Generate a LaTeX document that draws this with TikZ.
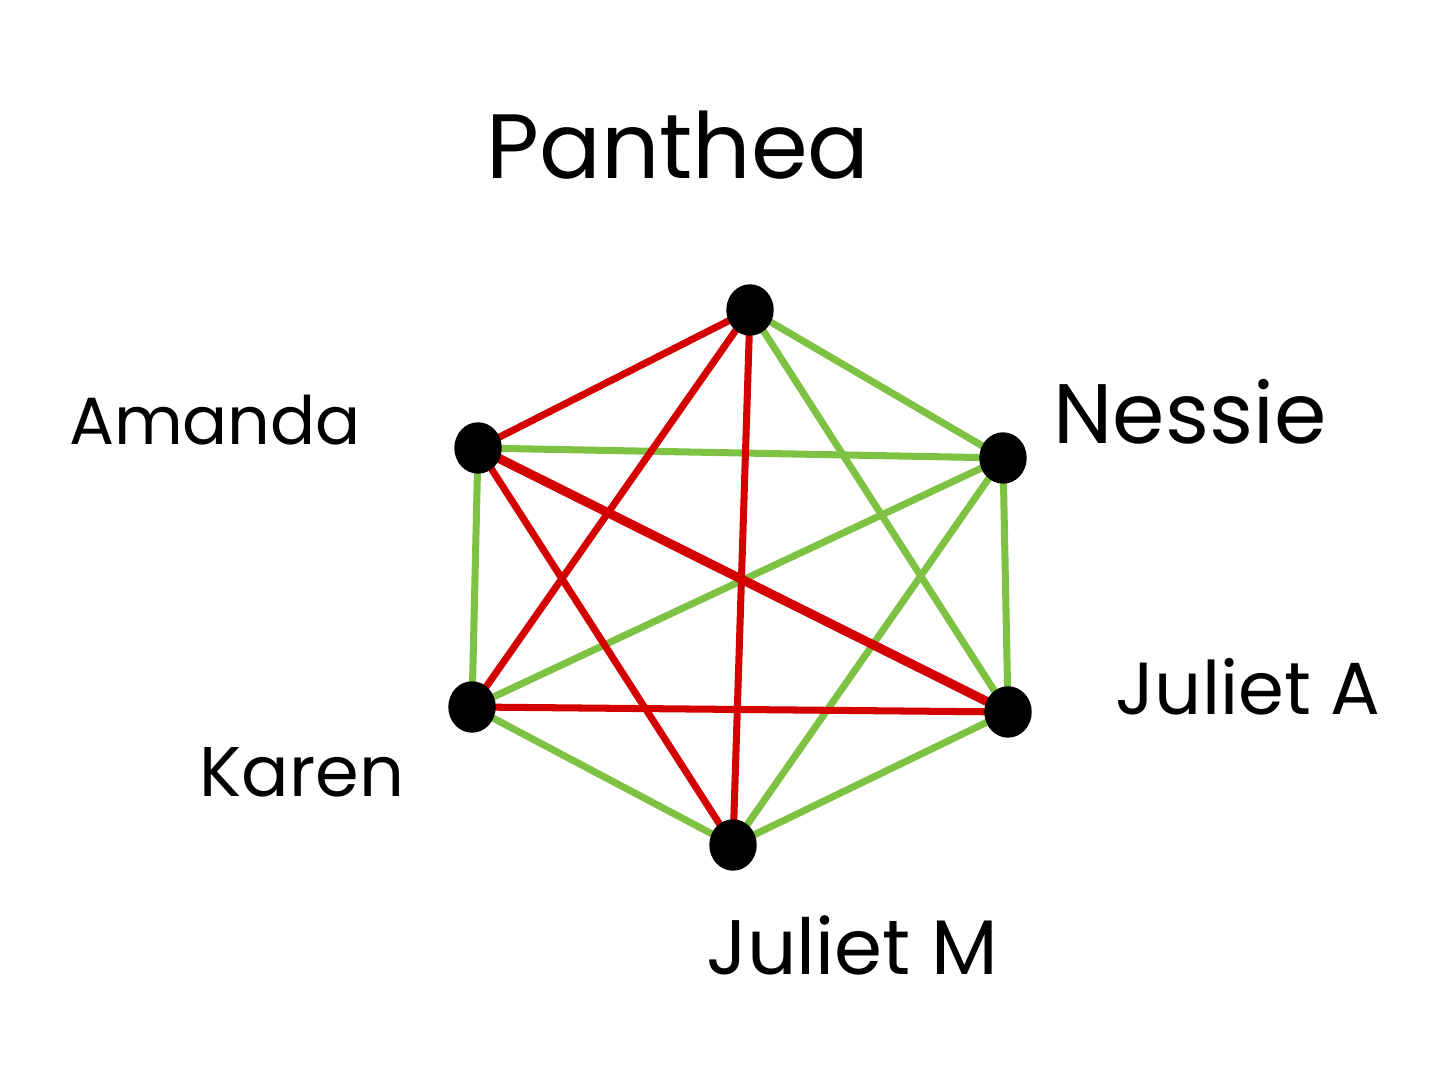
\documentclass[tikz,border=0pt]{standalone}
\usepackage{fontspec}
\setmainfont{Poppins}
\usetikzlibrary{positioning,backgrounds,shapes.geometric}
\definecolor{grRed}{HTML}{D40000}
\definecolor{grGreen}{HTML}{7DC242}
\tikzset{
  person/.style={draw=black, fill=black, ellipse, minimum width=4.6mm, minimum height=5mm, inner sep=0pt},
  nametag/.style={font=\fontsize{22}{26}\selectfont, text=black},
  likes/.style={grGreen, line width=2pt, line cap=round},
  clash/.style={grRed, line width=2pt, line cap=round},
  bigclash/.style={clash, line width=2.6pt}
}
\begin{document}
\begin{tikzpicture}
  \useasboundingbox (0,0) rectangle (14.56,10.75);
  % people
  \node[person] (pan) at (7.50,7.65) {};
  \node[person] (ama) at (4.78,6.27) {};
  \node[person] (nes) at (10.03,6.17) {};
  \node[person] (kar) at (4.72,3.68) {};
  \node[person] (jua) at (10.08,3.63) {};
  \node[person] (jum) at (7.33,2.30) {};
  % names
  \node[nametag, font=\fontsize{26}{30}\selectfont] (tpan) at (6.78,9.30) {Panthea};
  \node[nametag, font=\fontsize{19}{23}\selectfont] (tama) at (2.15,6.55) {Amanda};
  \node[nametag, font=\fontsize{24}{28}\selectfont] (tnes) at (11.90,6.63) {Nessie};
  \node[nametag, font=\fontsize{21}{25}\selectfont] (tjua) at (12.48,3.88) {Juliet A};
  \node[nametag, font=\fontsize{20}{24}\selectfont] (tkar) at (3.02,3.03) {Karen};
  \node[nametag] (tjum) at (8.52,1.30) {Juliet M};
  % edges
  \begin{scope}[on background layer]
    \foreach \a/\b in {pan/nes,pan/jua,ama/nes,ama/kar,nes/kar,nes/jua,nes/jum,kar/jum,jua/jum}
      \draw[likes] (\a.center) -- (\b.center);
    \foreach \a/\b in {pan/ama,pan/kar,pan/jum,ama/jum,kar/jua}
      \draw[clash] (\a.center) -- (\b.center);
    \draw[bigclash] (ama.center) -- (jua.center);
  \end{scope}
\end{tikzpicture}
\end{document}
